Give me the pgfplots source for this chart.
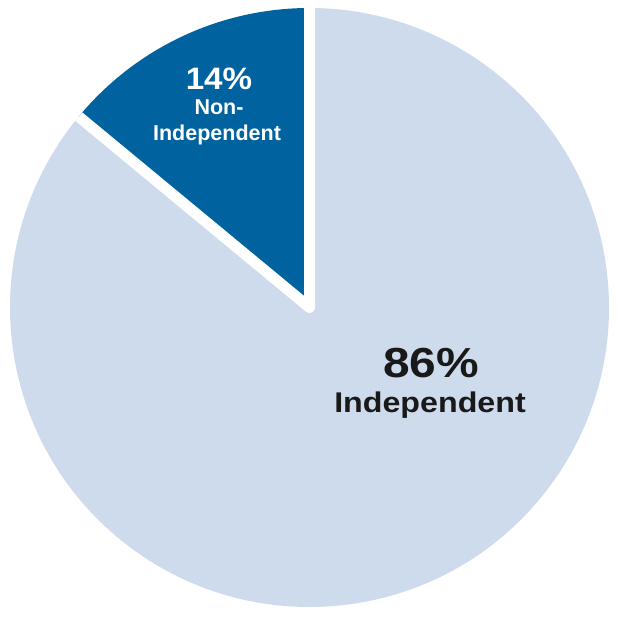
\documentclass[border=0pt]{standalone}
\usepackage{pgfplots}
\pgfplotsset{compat=1.18}
\usepackage{pgfplotstable}
\usepackage{fontspec}
\setmainfont{Liberation Sans}

\definecolor{indep}{RGB}{206,219,236}
\definecolor{nonindep}{RGB}{0,99,160}

% share of board members, percent
\pgfplotstableread{
label value
Independent 86
Non-Independent 14
}\piedata

\begin{document}
\begin{tikzpicture}
\pgfplotstablegetelem{1}{value}\of\piedata
\pgfmathsetmacro{\aB}{90+3.6*\pgfplotsretval}
\pgfmathsetmacro{\R}{299.5}
\begin{axis}[
    x=1pt, y=1pt,
    xmin=-309.5, xmax=309.5,
    ymin=-311.5, ymax=307.5,
    hide axis,
    xtick=\empty, ytick=\empty,
    clip=false,
]
% Independent slice
\fill[indep] (axis cs:0,0) -- (axis cs:{\R*cos(\aB)},{\R*sin(\aB)})
    arc[start angle=\aB, end angle=450, radius=\R pt] -- cycle;
% Non-independent slice
\fill[nonindep] (axis cs:0,0) -- (axis cs:0,\R)
    arc[start angle=90, end angle=\aB, radius=\R pt] -- cycle;
% white gaps between the slices
\draw[white, line width=11pt, line join=round]
    (axis cs:0,\R) -- (axis cs:0,0) -- (axis cs:{\R*cos(\aB)},{\R*sin(\aB)});

\node[anchor=base, xscale=1.14, text=black!90] at (axis cs:121.5,-70.5)
    {\bfseries\fontsize{42}{48}\selectfont 86\%};
\node[anchor=base, xscale=1.13, text=black!90] at (axis cs:120.5,-105.5)
    {\bfseries\fontsize{28.5}{32}\selectfont Independent};
\node[anchor=base, xscale=1.07, text=white] at (axis cs:-90.5,217.5)
    {\bfseries\fontsize{31}{36}\selectfont 14\%};
\node[anchor=base, text=white] at (axis cs:-90.5,192.5)
    {\bfseries\fontsize{21.5}{25}\selectfont Non-};
\node[anchor=base, text=white] at (axis cs:-92.5,166.5)
    {\bfseries\fontsize{21.5}{25}\selectfont Independent};

\coordinate (bl) at (axis cs:-309.5,-311.5);
\coordinate (tr) at (axis cs:309.5,307.5);
\end{axis}
\pgfresetboundingbox
\path (bl) rectangle (tr);
\end{tikzpicture}
\end{document}
